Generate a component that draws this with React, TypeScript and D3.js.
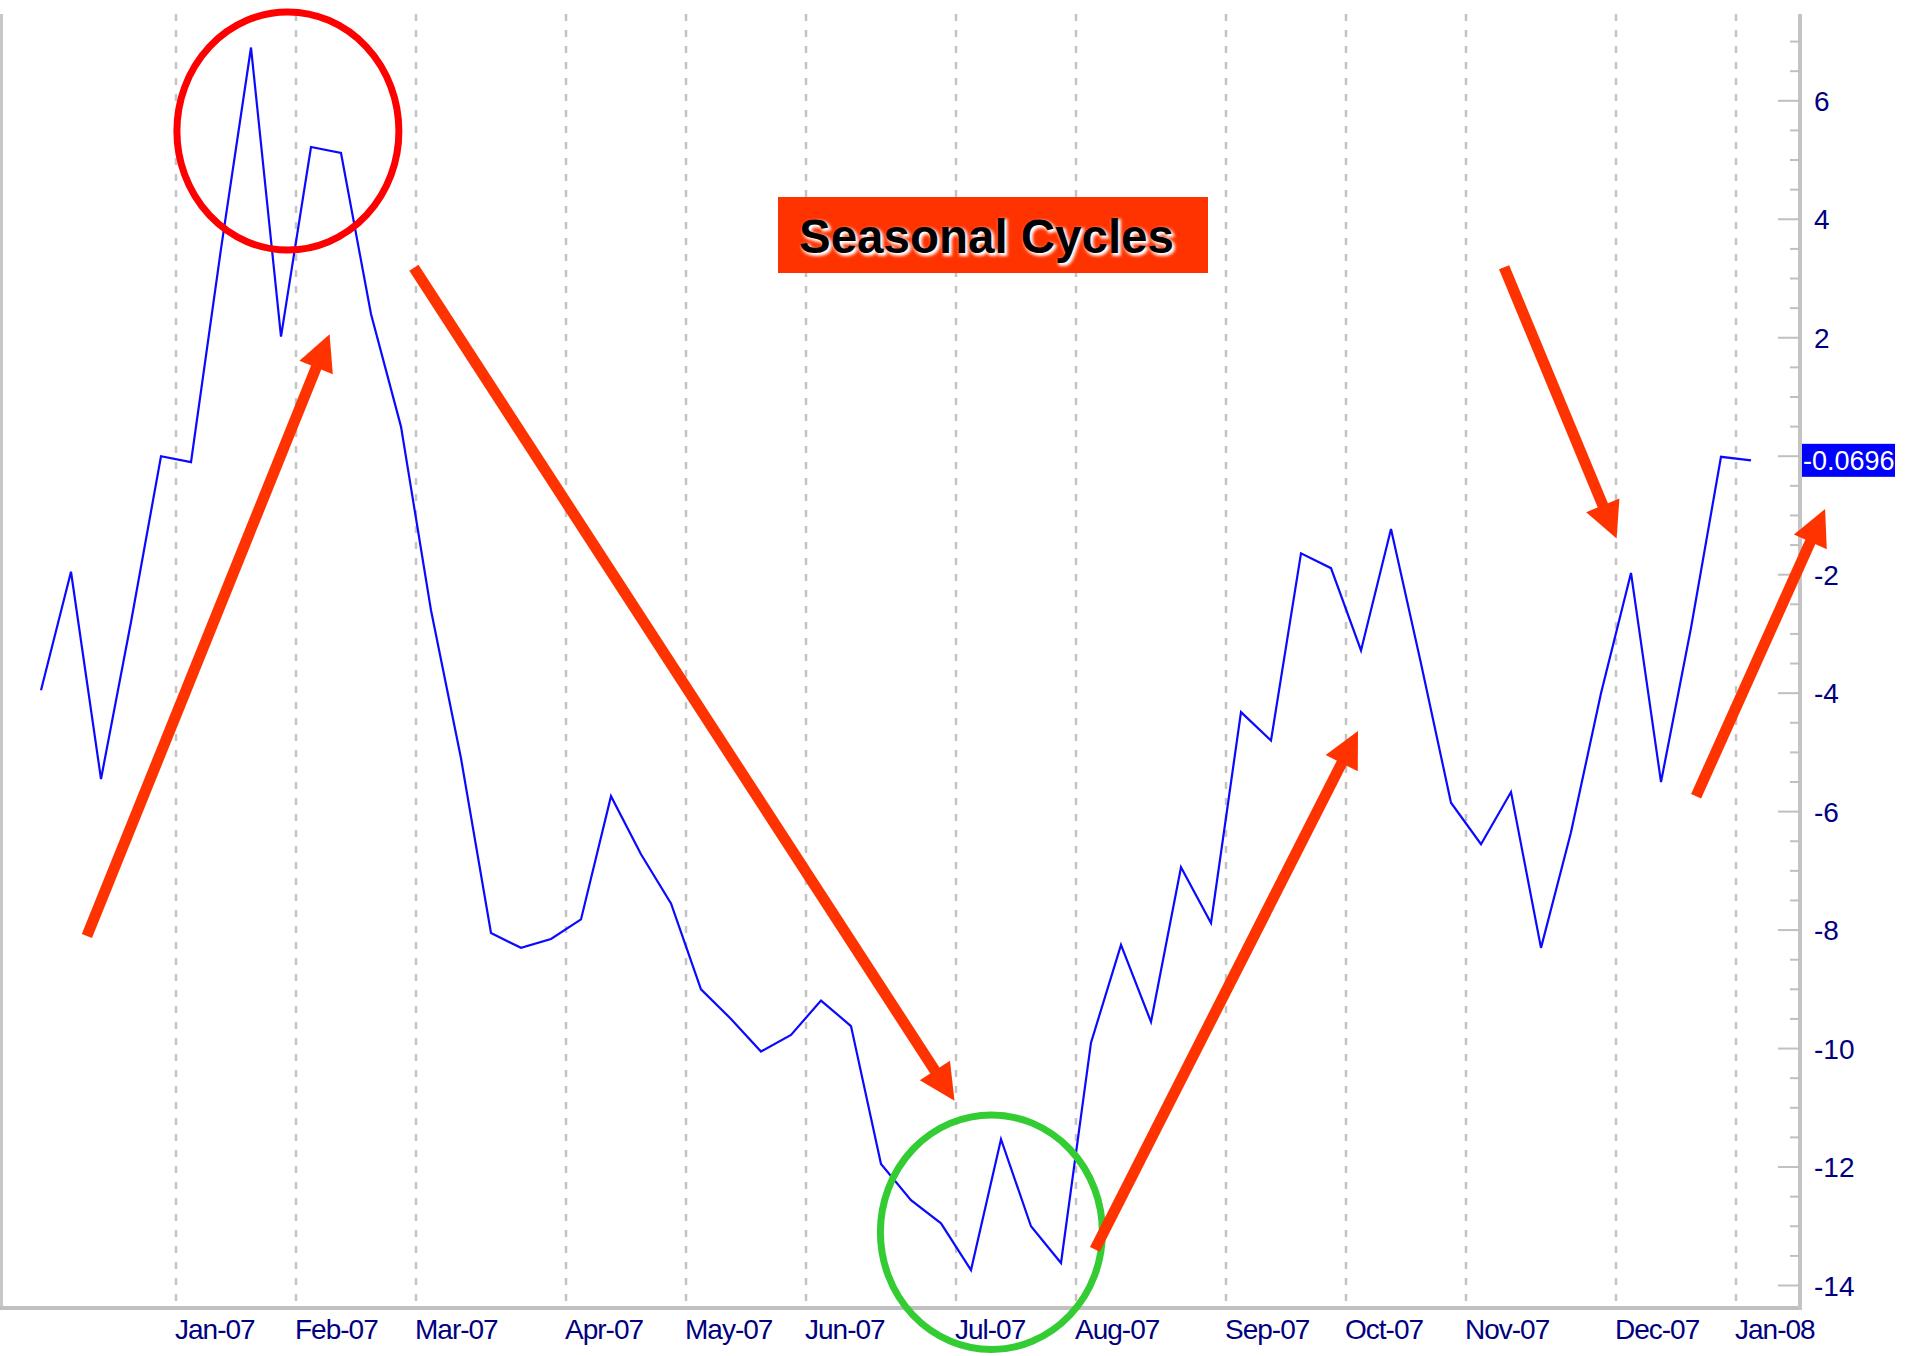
import React from "react";
import * as d3 from "d3";

// weekly closes (Fridays), Dec 1 2006 .. Jan 4 2008
const weeks = d3.timeFriday.range(new Date(2006, 11, 1), new Date(2008, 0, 5));

const values = [
  -3.95, -1.95, -5.45, -2.8, 0.0, -0.1, 3.5, 6.9, 2.02, 5.22,
  5.12, 2.4, 0.5, -2.6, -5.1, -8.05, -8.3, -8.15, -7.82, -5.74,
  -6.72, -7.55, -9.0, -9.5, -10.05, -9.77, -9.19, -9.62, -11.95, -12.56,
  -12.95, -13.74, -11.53, -13.0, -13.62, -9.9, -8.25, -9.55, -6.94, -7.88,
  -4.32, -4.8, -1.64, -1.89, -3.28, -1.23, -3.5, -5.85, -6.55, -5.67,
  -8.3, -6.35, -4.0, -1.97, -5.5, -2.9, -0.01, -0.0696,
];

const lastValue = "-0.0696";
const yTicks = d3.range(-14, 7.01, 0.5);
// the 0 label sits under the last-value tag
const yLabels = [6, 4, 2, -2, -4, -6, -8, -10, -12, -14];

// annotations in (week index, value) units
const arrows = [
  { from: [1.53, -8.1], to: [9.62, 2.06] },
  { from: [12.43, 3.18], to: [30.45, -10.88] },
  { from: [35.13, -13.39], to: [43.9, -4.64] },
  { from: [48.77, 3.19], to: [52.52, -1.39] },
  { from: [55.17, -5.74], to: [59.47, -0.89] },
];
const circles = [
  { c: [8.23, 5.49], rw: 3.7, rv: 2.01, color: "#ff0000" },
  { c: [31.68, -13.1], rw: 3.7, rv: 1.98, color: "#33cc33" },
];
const title = "Seasonal Cycles";

const W = 1905;
const H = 1356;
const axisX = 1800;
const top = 14;
const bottom = 1308;
const font = "'Liberation Sans', Arial, sans-serif";
const arrowColor = "#ff3300";

export default function App() {
  const x = d3
    .scaleBand<number>()
    .domain(weeks.map((d) => +d))
    .range([26, 26 + weeks.length * 30]);
  const bw = x.bandwidth();
  const xi = d3.scaleLinear().domain([0, 1]).range([26 + bw / 2, 26 + bw * 1.5]);
  const y = d3.scaleLinear().domain([-14, 6]).range([1285.5, 100.8]);

  const line = d3
    .line<number>()
    .x((_, i) => (x(+weeks[i]) as number) + bw / 2)
    .y((v) => y(v));

  // first week of every month after the first one
  const monthStarts = weeks.filter(
    (d, i) => i > 0 && d.getMonth() !== weeks[i - 1].getMonth()
  );
  const fmt = d3.timeFormat("%b-%y");

  const headLen = 36;
  const headHalf = 18;

  return (
    <svg
      width={W}
      height={H}
      style={{ position: "absolute", left: 0, top: 0, background: "#fff" }}
    >
      <defs>
        <filter id="glow" x="-10%" y="-30%" width="120%" height="160%">
          <feGaussianBlur stdDeviation="1.6" />
        </filter>
      </defs>

      {/* month grid */}
      {monthStarts.map((d, i) => (
        <line
          key={i}
          x1={x(+d)}
          x2={x(+d)}
          y1={top}
          y2={bottom - 2}
          stroke="#c4c4c4"
          strokeWidth={2.5}
          strokeDasharray="7 9"
        />
      ))}

      {/* frame */}
      <line x1={1.5} x2={1.5} y1={top} y2={bottom} stroke="#c8c8c8" strokeWidth={3} />
      <line x1={0} x2={axisX + 2} y1={bottom} y2={bottom} stroke="#c0c0c0" strokeWidth={4} />
      <line x1={axisX} x2={axisX} y1={top} y2={bottom + 2} stroke="#c4c4c4" strokeWidth={4} />

      {/* y ticks */}
      {yTicks.map((t, i) => {
        const major = Math.abs(t % 2) < 1e-6;
        return (
          <line
            key={i}
            x1={axisX - (major ? 22 : 10)}
            x2={axisX}
            y1={y(t)}
            y2={y(t)}
            stroke="#c0c0c0"
            strokeWidth={2}
          />
        );
      })}
      {yLabels.map((t) => (
        <text
          key={t}
          x={1814}
          y={y(t)}
          dy="0.36em"
          fontFamily={font}
          fontSize={28}
          fill="#000080"
        >
          {t}
        </text>
      ))}

      {/* month labels */}
      {monthStarts.map((d, i) => (
        <text
          key={i}
          x={(x(+d) as number) - 1}
          y={1339}
          fontFamily={font}
          fontSize={28}
          letterSpacing={-1}
          fill="#000080"
        >
          {fmt(d)}
        </text>
      ))}

      {/* series */}
      <path d={line(values) || ""} fill="none" stroke="#0a0aff" strokeWidth={2.2} />

      {/* last value tag */}
      <rect
        x={axisX + 2}
        y={y(values[values.length - 1]) - 16.5}
        width={93}
        height={33}
        fill="#0000ff"
      />
      <text
        x={axisX + 3}
        y={y(values[values.length - 1])}
        dy="0.36em"
        fontFamily={font}
        fontSize={27}
        fill="#fff"
      >
        {lastValue}
      </text>

      {/* circles */}
      {circles.map((c, i) => (
        <ellipse
          key={i}
          cx={xi(c.c[0])}
          cy={y(c.c[1])}
          rx={xi(c.rw) - xi(0)}
          ry={y(0) - y(c.rv)}
          fill="none"
          stroke={c.color}
          strokeWidth={7}
        />
      ))}

      {/* arrows */}
      {arrows.map((a, i) => {
        const x0 = xi(a.from[0]);
        const y0 = y(a.from[1]);
        const x1 = xi(a.to[0]);
        const y1 = y(a.to[1]);
        const len = Math.hypot(x1 - x0, y1 - y0);
        const ux = (x1 - x0) / len;
        const uy = (y1 - y0) / len;
        const bx = x1 - ux * headLen;
        const by = y1 - uy * headLen;
        const nx = -uy;
        const ny = ux;
        const head = [
          [x1, y1],
          [bx + nx * headHalf, by + ny * headHalf],
          [bx - nx * headHalf, by - ny * headHalf],
        ];
        return (
          <g key={i}>
            <line
              x1={x0}
              y1={y0}
              x2={bx + ux * 2}
              y2={by + uy * 2}
              stroke={arrowColor}
              strokeWidth={11}
            />
            <polygon points={head.map((p) => p.join(",")).join(" ")} fill={arrowColor} />
          </g>
        );
      })}

      {/* title box */}
      <rect x={778} y={197} width={430} height={76} fill={arrowColor} />
      <text
        x={801}
        y={255}
        fontFamily={font}
        fontWeight="bold"
        fontSize={47.5}
        fill="#fff"
        filter="url(#glow)"
        stroke="#fff"
        strokeWidth={2}
      >
        {title}
      </text>
      <text x={799} y={253} fontFamily={font} fontWeight="bold" fontSize={47.5} fill="#000">
        {title}
      </text>
    </svg>
  );
}
